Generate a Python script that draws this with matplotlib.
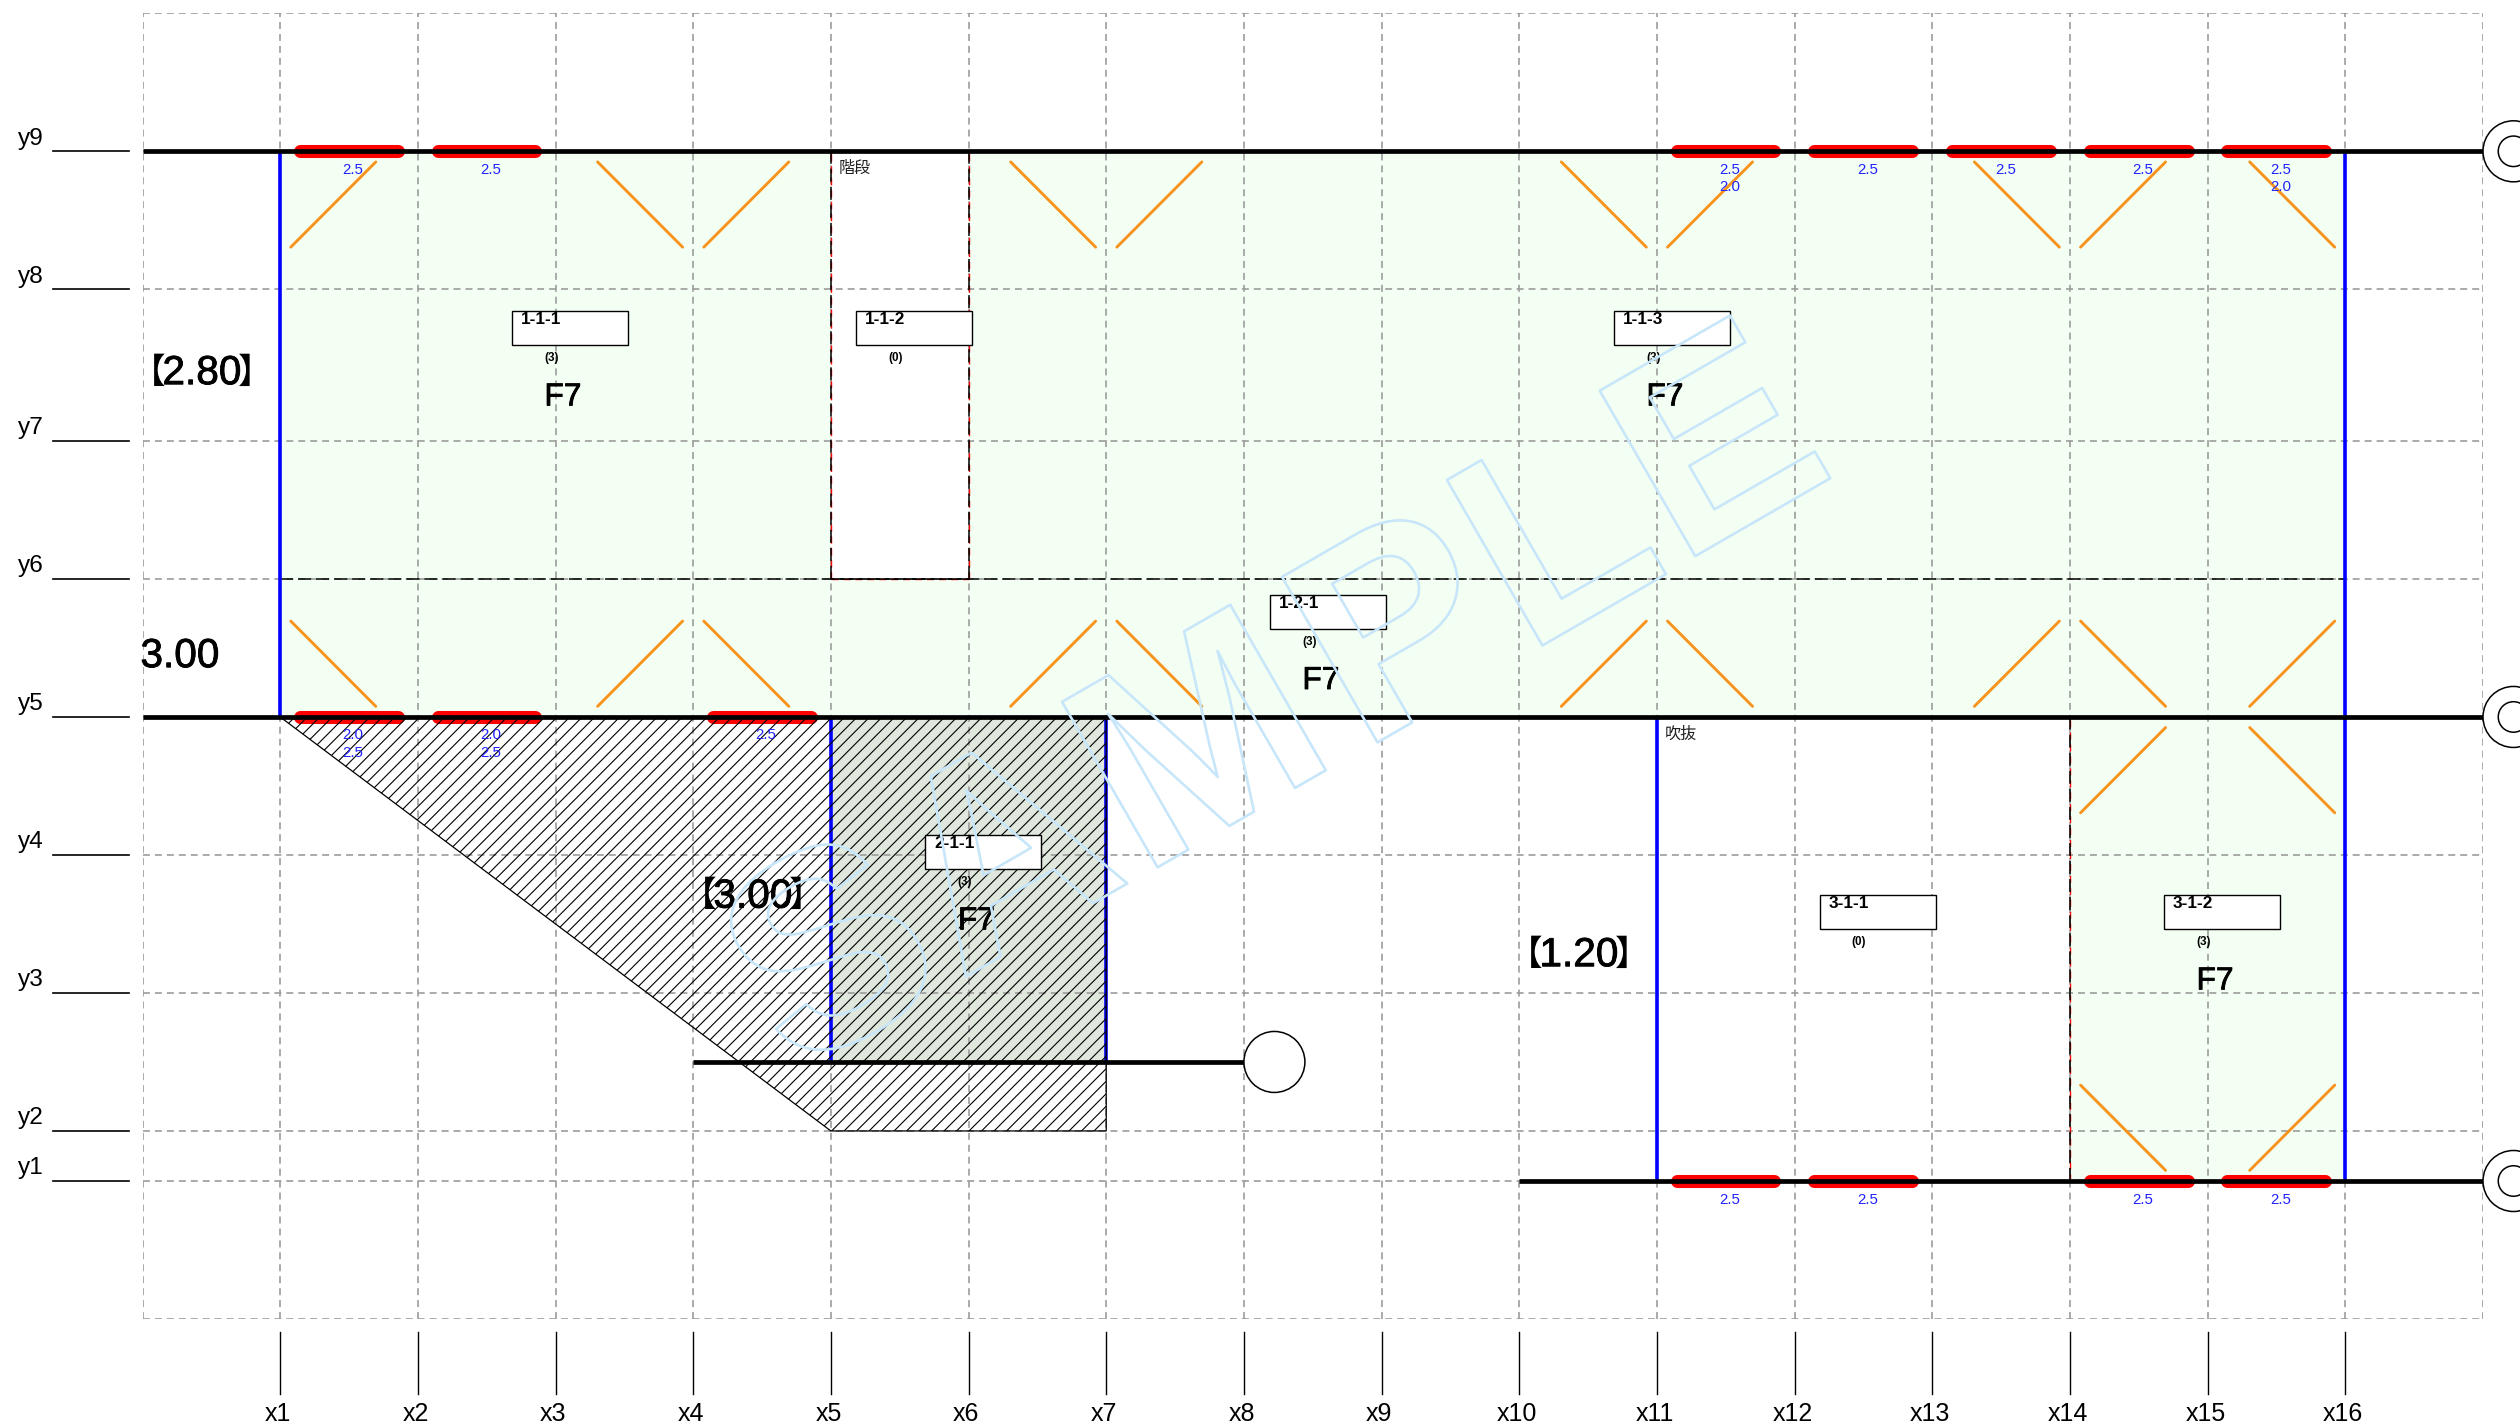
import numpy as np
import matplotlib
matplotlib.use("Agg")
import matplotlib.pyplot as plt
from matplotlib.collections import LineCollection
from matplotlib.patches import Ellipse, Polygon, Rectangle
from matplotlib import patheffects as pe

plt.rcParams["font.family"] = ["Liberation Sans", "Noto Sans CJK JP", "DejaVu Sans"]
plt.rcParams["lines.scale_dashes"] = False

# grid positions in mm
span = 910
x_pos = [span * i for i in range(18)]
x_labels = [f"x{i}" for i in range(1, 17)]
y_pos = [0, 330, 1240, 2150, 3060, 3970, 4880, 5880, 6790]
y_labels = [f"y{i}" for i in range(1, 10)]
y_bottom = -910
y_top = 7700
y_beam_low = 785

# cell index (left column), label lines
bars_y9 = [(1, "2.5"), (2, "2.5"), (11, "2.5\n2.0"), (12, "2.5"), (13, "2.5"), (14, "2.5"), (15, "2.5\n2.0")]
bars_y5 = [(1, "2.0\n2.5"), (2, "2.0\n2.5"), (4, "2.5")]
bars_y1 = [(11, "2.5"), (12, "2.5"), (14, "2.5"), (15, "2.5")]

# (column, side)
braces_long = [(1, 1), (4, -1), (4, 1), (7, -1), (7, 1), (11, -1), (11, 1), (14, -1), (14, 1), (16, -1)]
braces_short = [(14, 1), (16, -1)]

rooms = ["1-1-1", "1-1-2", "1-1-3", "1-2-1", "2-1-1", "3-1-1", "3-1-2"]
room_x = [2442, 4719, 9726, 7452, 5175, 11085, 13362]
room_top = [5737, 5737, 5737, 3867, 2282, 1886, 1886]
room_count = ["(3)", "(0)", "(3)", "(3)", "(3)", "(0)", "(3)"]
room_grade = ["F7", "", "F7", "F7", "F7", "", "F7"]

big_text = ["2.80", "3.00", "3.00", "1.20"]
big_bracket = [True, False, True, True]
big_x = [393, 248, 4035, 9495]
big_y = [5327, 3461, 1875, 1489]

mark_letters = list("SAMPLE")
mark_x = [4306, 5403, 6603, 8057, 9147, 10157]
mark_y = [692, 1325, 2007, 2831, 3470, 4059]

GREEN = "#f4fff4"
BLUE = "#0000ff"
RED = "#ff0000"
ORANGE = "#f7941d"
GRID = "#9c9c9c"
DASH_GRID = (0, (2.5, 1.8))
DASH_WALL = (0, (4.7, 1.8))
HEAVY = [pe.withStroke(linewidth=0.3, foreground="black")]

fig = plt.figure(figsize=(12.6, 7.12), dpi=200)
ax = fig.add_axes([142.5 / 2520, 105 / 1424, 2340.5 / 2520, 1305.7 / 1424])
ax.set_xlim(0, x_pos[-1])
ax.set_ylim(y_bottom, y_top)
ax.axis("off")


def col(i):
    return x_pos[i]


def row(i):
    return y_pos[i - 1]


# green floor areas
green_areas = [(1, 5, row(6), row(9)), (6, 16, row(6), row(9)), (1, 16, row(5), row(6)), (14, 16, row(1), row(5))]
for c0, c1, y0, y1 in green_areas:
    ax.add_patch(Rectangle((col(c0), y0), col(c1) - col(c0), y1 - y0, fc=GREEN, ec="none", zorder=1))
ax.add_patch(Rectangle((col(5), y_beam_low), col(7) - col(5), row(5) - y_beam_low, fc="#e0e8dd", ec="none", zorder=1))

# grid
for x in x_pos:
    ax.plot([x, x], [y_bottom, y_top], color=GRID, lw=0.6, ls=DASH_GRID, zorder=2)
for y in y_pos + [y_bottom, y_top]:
    ax.plot([0, x_pos[-1]], [y, y], color=GRID, lw=0.6, ls=DASH_GRID, zorder=2)

# axis stems and labels
for x, name in zip(x_pos[1:17], x_labels):
    ax.plot([x, x], [-996, -1405], color="black", lw=0.5, clip_on=False, zorder=2)
    ax.text(x - 15, -1538, name, fontsize=9, ha="center", va="center", clip_on=False)
for y, name in zip(y_pos, y_labels):
    ax.plot([-592, -86], [y, y], color="black", lw=0.6, clip_on=False, zorder=2)
    ax.text(-823, y + 84, name, fontsize=8.8, ha="left", va="center", clip_on=False)

# hatched void
hatch_poly = Polygon(
    [(col(1), row(5)), (col(7), row(5)), (col(7), row(2)), (col(5), row(2))],
    closed=True, fc="none", ec="black", lw=0.45, zorder=5,
)
ax.add_patch(hatch_poly)
segs = [[(c, 0), (c + 8000, 8000)] for c in np.arange(-8000, 16000, 82.6)]
hatch = LineCollection(segs, colors="black", linewidths=0.4, zorder=5)
ax.add_collection(hatch)
hatch.set_clip_path(hatch_poly)

# dashed walls and lines
dashed_walls = [
    ([col(5), col(5)], [row(6), row(9)]),
    ([col(6), col(6)], [row(6), row(9)]),
    ([col(5), col(6)], [row(6), row(6)]),
    ([col(14), col(14)], [row(1), row(5)]),
]
for xs, ys in dashed_walls:
    ax.plot(xs, ys, color=RED, lw=0.5, ls=DASH_GRID, zorder=3)
ax.plot([col(1), col(16)], [row(6), row(6)], color="black", lw=0.55, ls=DASH_WALL, zorder=3)
for xs, ys in dashed_walls:
    ax.plot(xs, ys, color="black", lw=0.55, ls=DASH_WALL, zorder=3)

# blue walls
blue_walls = [
    (col(1), row(5), row(9)), (col(16), row(1), row(9)), (col(11), row(1), row(5)),
    (col(5), y_beam_low, row(5)), (col(7), y_beam_low, row(5)),
]
for x, y0, y1 in blue_walls:
    ax.plot([x, x], [y0, y1], color=BLUE, lw=1.3, solid_capstyle="butt", zorder=4)

# braces
near, far = 70, 632
brace_sets = [(row(9), -1, braces_long), (row(5), 1, braces_long), (row(5), -1, braces_short), (row(1), 1, braces_short)]
for beam, v, items in brace_sets:
    for c, side in items:
        ax.plot([col(c) + side * near, col(c) + side * far], [beam + v * far, beam + v * near],
                color=ORANGE, lw=1.05, solid_capstyle="round", zorder=4)

# openings
for beam, items in [(row(9), bars_y9), (row(5), bars_y5), (row(1), bars_y1)]:
    for c, label in items:
        ax.plot([col(c) + 130, col(c) + 777], [beam, beam], color=RED, lw=4.7, solid_capstyle="round", zorder=4.5)
        for k, line in enumerate(label.split("\n")):
            ax.text(col(c) + 482, beam - 122 - k * 115, line, color="#2222ff", fontsize=5.4,
                    ha="center", va="center", zorder=7)

# beams
beams = [(0, 17, row(9)), (0, 17, row(5)), (10, 17, row(1)), (4, 8, y_beam_low)]
for c0, c1, y in beams:
    ax.plot([col(c0), col(c1)], [y, y], color="black", lw=1.7, solid_capstyle="butt", zorder=6)

# end circles
r_x, r_y = 30.5 / 0.15129, 30.5 / 0.15165
for y in [row(9), row(5), row(1)]:
    ax.add_patch(Ellipse((col(17) + r_x, y), 2 * r_x, 2 * r_y, fc="white", ec="black", lw=0.55, clip_on=False, zorder=6))
    ax.add_patch(Ellipse((col(17) + r_x, y), r_x, r_y, fc="white", ec="black", lw=0.55, clip_on=False, zorder=6))
ax.add_patch(Ellipse((col(8) + r_x, y_beam_low), 2 * r_x, 2 * r_y, fc="white", ec="black", lw=0.55, zorder=6))

# room labels
for name, x, top, count, grade in zip(rooms, room_x, room_top, room_count, room_grade):
    ax.add_patch(Rectangle((x, top - 224), 767, 224, fc="white", ec="black", lw=0.5, zorder=7))
    ax.text(x + 58, top - 59, name, fontsize=6.2, fontweight="bold", ha="left", va="center", zorder=8)
    ax.text(x + 261, top - 310, count, fontsize=4.2, fontweight="bold", ha="center", va="center", zorder=8)
    if grade:
        ax.text(x + 337, top - 570, grade, fontsize=11.4, ha="center", va="center", zorder=8, path_effects=HEAVY)

ax.text(col(5) + 53, row(9) - 112, "階段", fontsize=5.8, color="#222222", ha="left", va="center", zorder=8)
ax.text(col(11) + 50, row(5) - 112, "吹抜", fontsize=5.8, color="#222222", ha="left", va="center", zorder=8)

for label, has_bracket, x, y in zip(big_text, big_bracket, big_x, big_y):
    ax.text(x, y, label, fontsize=14.6, ha="center", va="center", zorder=8, path_effects=HEAVY)
    if has_bracket:
        # full width brackets sit too far out in one string, so place them by hand
        ax.text(x - 238, y, "【", fontsize=12.5, ha="right", va="center", zorder=8, family="Noto Sans CJK JP")
        ax.text(x + 238, y, "】", fontsize=12.5, ha="left", va="center", zorder=8, family="Noto Sans CJK JP")

# watermark, outline only
for letter, x, y in zip(mark_letters, mark_x, mark_y):
    t = ax.text(x, y, letter, fontsize=100, fontweight="bold", rotation=30, rotation_mode="anchor",
                ha="left", va="baseline", color="none", zorder=9)
    t.set_path_effects([pe.Stroke(linewidth=0.95, foreground="#c8e6f9")])

fig.savefig("out.png", dpi=200)
